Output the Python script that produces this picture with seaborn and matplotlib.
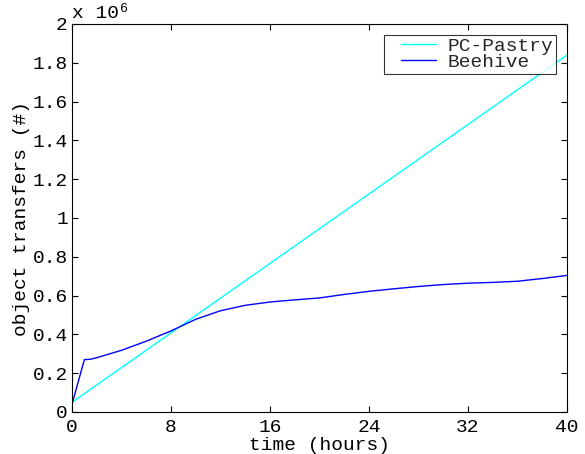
import matplotlib
matplotlib.use("Agg")
import matplotlib.pyplot as plt
from matplotlib.legend_handler import HandlerLine2D
from matplotlib.transforms import offset_copy
import seaborn as sns
import pandas as pd

sns.set_theme(style="white")
plt.rcParams['font.family'] = ['Liberation Mono', 'DejaVu Sans']

pastry_hours = [0, 40]
pastry_values = [0.05e6, 1.84e6]

beehive_hours = [0, 1, 1.5, 2, 4, 6, 8, 10, 12, 14, 16, 18, 20, 22, 24, 26, 28, 30, 32, 34, 36, 38, 40]
beehive_values = [0.04e6, 0.27e6, 0.272e6, 0.28e6, 0.318e6, 0.365e6, 0.418e6, 0.478e6, 0.522e6, 0.55e6,
                  0.567e6, 0.578e6, 0.588e6, 0.606e6, 0.622e6, 0.635e6, 0.647e6, 0.657e6, 0.664e6,
                  0.668e6, 0.674e6, 0.688e6, 0.704e6]

x_ticks = [0, 8, 16, 24, 32, 40]
y_ticks = [0, 0.2, 0.4, 0.6, 0.8, 1.0, 1.2, 1.4, 1.6, 1.8, 2.0]
y_tick_labels = ["0", "0.2", "0.4", "0.6", "0.8", "1", "1.2", "1.4", "1.6", "1.8", "2"]

df = pd.concat([
    pd.DataFrame({"time": pastry_hours, "val": pastry_values, "system": "PC-Pastry"}),
    pd.DataFrame({"time": beehive_hours, "val": beehive_values, "system": "Beehive"}),
])

FS = 14
fig = plt.figure(figsize=(5.85, 4.54), dpi=100)
ax = fig.add_axes([72/585, 1 - 412/454, (567-72)/585, (412-24)/454])
sns.lineplot(data=df, x="time", y="val", hue="system",
             palette={"PC-Pastry": "#00ffff", "Beehive": "#0000ff"},
             linewidth=1.0, ax=ax, sort=False)

ax.set_xlim(0, 40)
ax.set_ylim(0, 2e6)
ax.set_xticks(x_ticks)
ax.set_xticklabels([str(t) for t in x_ticks], fontsize=FS)
ax.set_yticks([v * 1e6 for v in y_ticks])
ax.set_yticklabels(y_tick_labels, fontsize=FS)
ax.tick_params(direction="in", length=4, width=0.8, color="black",
               top=True, right=True, bottom=True, left=True, labelcolor="black")
ax.tick_params(axis="x", pad=5)
ax.tick_params(axis="y", pad=3)
for s in ax.spines.values():
    s.set_visible(True)
    s.set_color("black")
    s.set_linewidth(0.8)

ax.set_xlabel("time (hours)", fontsize=FS, labelpad=0.5, color="black")
ax.set_ylabel("object transfers (#)", fontsize=FS, labelpad=2, color="black")

# multiplier text above the axes
t1 = offset_copy(ax.transAxes, fig=fig, x=0, y=4.3, units="points")
ax.text(0, 1.0, "x 10", transform=t1, fontsize=FS, va="baseline", ha="left", color="black")
t2 = offset_copy(ax.transAxes, fig=fig, x=34.5, y=9.0, units="points")
ax.text(0, 1.0, "6", transform=t2, fontsize=9.5, va="baseline", ha="left", color="black")

handles, labels = ax.get_legend_handles_labels()
leg = ax.legend(handles, labels, loc="upper right", fontsize=FS, frameon=True, fancybox=False,
                borderpad=0.15, handlelength=2.5, labelspacing=-0.1, borderaxespad=0.55,
                handletextpad=0.6, title=None,
                handler_map={h: HandlerLine2D(xpad=0.7) for h in handles})
leg.get_frame().set_edgecolor("black")
leg.get_frame().set_linewidth(0.8)

fig.savefig("out.png", dpi=100)
